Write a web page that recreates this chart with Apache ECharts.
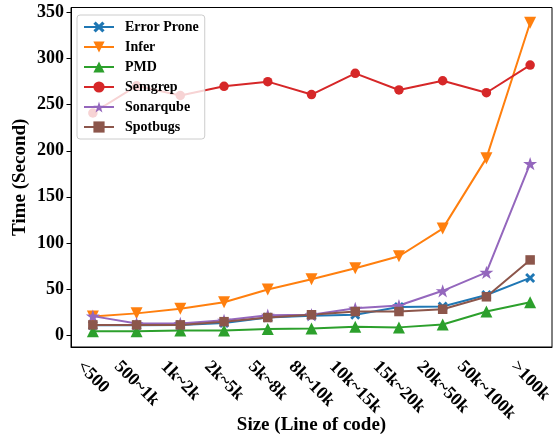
<!DOCTYPE html>
<html>
<head>
<meta charset="utf-8">
<script src="https://cdn.jsdelivr.net/npm/echarts@6/dist/echarts.min.js"></script>
<style>html,body{margin:0;padding:0;background:#fff}#c{width:554px;height:435px}</style>
</head>
<body>
<div id="c"></div>
<script>
const categories = ['<500','500~1k','1k~2k','2k~5k','5k~8k','8k~10k','10k~15k','15k~20k','20k~50k','50k~100k','>100k'];
const errorProne = [10.5, 10.5, 11, 13, 19, 21, 22, 30.5, 31, 43.5, 62];
const infer      = [20, 23.5, 28.5, 35.5, 49.5, 60.5, 72.5, 85.5, 115.5, 192, 339];
const pmd        = [4, 4, 5, 5, 6.5, 7, 9, 8.3, 11.5, 25.5, 35.5];
const semgrep    = [241, 270.5, 260, 270, 275, 261, 284, 266, 276, 263, 293];
const sonarqube  = [20.5, 12.5, 12.5, 16, 21.5, 22, 29, 32, 48, 68, 186];
const spotbugs   = [11, 11, 11, 14.5, 19, 22, 25.5, 25.5, 28, 41.5, 81.5];
const yTicks     = [0, 50, 100, 150, 200, 250, 300, 350];

const FONT = '"Liberation Serif", "DejaVu Serif", serif';
const TICK_FS = 18;
const NAME_FS = 19;
const X_SYM = 'path://M2,0 L5,3 L8,0 L10,2 L7,5 L10,8 L8,10 L5,7 L2,10 L0,8 L3,5 L0,2 Z';
const STAR = 'path://M10,0 L12.245,6.910 L19.511,6.910 L13.633,11.180 L15.878,18.090 L10,13.82 L4.122,18.090 L6.367,11.180 L0.489,6.910 L7.755,6.910 Z';

// measure label widths to center rotated labels under ticks (matplotlib style)
const ctx = document.createElement('canvas').getContext('2d');
ctx.font = 'bold ' + TICK_FS + 'px ' + FONT;
const rich = {};
categories.forEach((c, i) => {
  const w = ctx.measureText(c).width;
  const L = w / 2;
  rich['p' + i] = {fontSize: TICK_FS, fontWeight: 'bold', fontFamily: FONT, color: '#000', padding: [L, 0, 0, L]};
});

const chart = echarts.init(document.getElementById('c'));
function mk(name, data, color, symbol, size, rot) {
  return {name, type: 'line', data, symbol, symbolSize: size, symbolKeepAspect: true, symbolRotate: rot || 0,
    lineStyle: {color, width: 2}, itemStyle: {color}, showSymbol: true, animation: false};
}
chart.setOption({
  animation: false,
  grid: {left: 71, right: 2, top: 7.5, bottom: 88, show: true, borderColor: '#000', borderWidth: 1, outerBoundsMode: 'none'},
  legend: {
    orient: 'vertical', left: 77, top: 15,
    padding: [4, 6, 4, 6], itemGap: 4, itemWidth: 30, itemHeight: 14,
    backgroundColor: 'rgba(255,255,255,0.8)', borderColor: '#ccc', borderWidth: 1, borderRadius: 3,
    textStyle: {fontSize: 14, fontWeight: 'bold', fontFamily: FONT, color: '#000', lineHeight: 16, padding: [0,0,0,6]},
    data: ['Error Prone','Infer','PMD','Semgrep','Sonarqube','Spotbugs']
  },
  xAxis: {
    type: 'category', data: categories, boundaryGap: true,
    name: 'Size (Line of code)', nameLocation: 'middle', nameGap: 69, nameMoveOverlap: false,
    nameTextStyle: {fontSize: NAME_FS, fontWeight: 'bold', fontFamily: FONT, color: '#000'},
    axisLine: {onZero: false, lineStyle: {color: '#000', width: 1}},
    axisTick: {alignWithLabel: true, length: 4.5, lineStyle: {color: '#000'}},
    axisLabel: {interval: 0, rotate: -45, align: 'center', verticalAlign: 'middle', margin: 17,
      formatter: (v, i) => '{p' + i + '|' + v + '}', rich,
      fontSize: TICK_FS, fontWeight: 'bold', fontFamily: FONT, color: '#000'},
    splitLine: {show: false}
  },
  yAxis: {
    type: 'value', min: -13, max: 355.5,
    name: 'Time (Second)', nameLocation: 'middle', nameGap: 41, nameMoveOverlap: false,
    nameTextStyle: {fontSize: NAME_FS, fontWeight: 'bold', fontFamily: FONT, color: '#000'},
    axisLine: {show: true, onZero: false, lineStyle: {color: '#000', width: 1}},
    axisTick: {show: true, length: 4.5, lineStyle: {color: '#000'}, customValues: yTicks},
    axisLabel: {margin: 7, fontSize: TICK_FS, fontWeight: 'bold', fontFamily: FONT, color: '#000', customValues: yTicks},
    splitLine: {show: false}
  },
  series: [
    mk('Error Prone', errorProne, '#1f77b4', X_SYM, 10),
    mk('Infer', infer, '#ff7f0e', 'triangle', 12, 180),
    mk('PMD', pmd, '#2ca02c', 'triangle', 12),
    mk('Semgrep', semgrep, '#d62728', 'circle', 9.5),
    mk('Sonarqube', sonarqube, '#9467bd', STAR, 14),
    mk('Spotbugs', spotbugs, '#8c564b', 'rect', 9.5)
  ]
});
</script>
</body>
</html>
